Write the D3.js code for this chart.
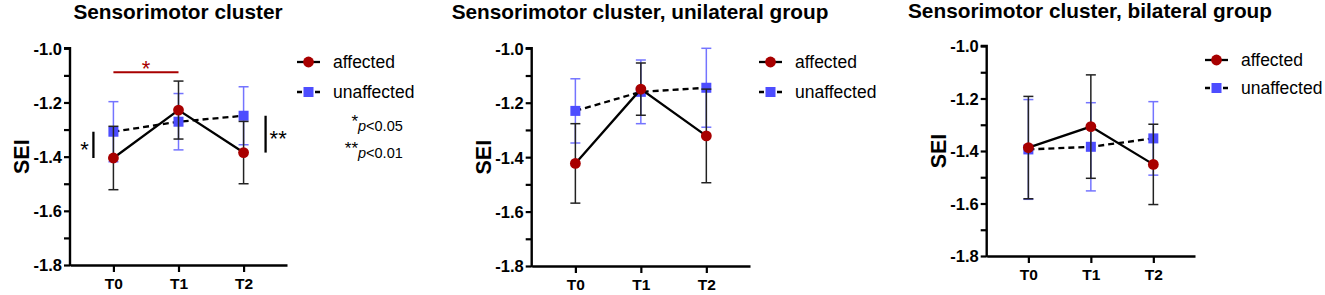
<!DOCTYPE html>
<html>
<head>
<meta charset="utf-8">
<script src="https://cdn.jsdelivr.net/npm/d3@7"></script>
<style>
  body { margin: 0; background: #fff; }
  text { font-family: "Liberation Sans", Arial, sans-serif; }
</style>
</head>
<body>
<script>
var timepoints = ["T0", "T1", "T2"];
var yTickValues = [-1.8, -1.7, -1.6, -1.5, -1.4, -1.3, -1.2, -1.1, -1.0];
var yLabelValues = [-1.8, -1.6, -1.4, -1.2, -1.0];
var titles = ["Sensorimotor cluster", "Sensorimotor cluster, unilateral group", "Sensorimotor cluster, bilateral group"];
var seriesNames = ["affected", "unaffected"];

// mean and error (SEM) per time point
var allAffected = [-1.405, -1.228, -1.385];
var allAffectedErr = [0.117, 0.107, 0.115];
var allUnaffected = [-1.308, -1.271, -1.249];
var allUnaffectedErr = [0.111, 0.104, 0.107];

var uniAffected = [-1.423, -1.150, -1.322];
var uniAffectedErr = [0.146, 0.096, 0.172];
var uniUnaffected = [-1.230, -1.160, -1.145];
var uniUnaffectedErr = [0.118, 0.117, 0.145];

var biAffected = [-1.387, -1.307, -1.451];
var biAffectedErr = [0.195, 0.197, 0.153];
var biUnaffected = [-1.394, -1.384, -1.352];
var biUnaffectedErr = [0.19, 0.168, 0.14];

var redCol = "#a80000";
var blueCol = "#4d4dff";
var blueErrCol = "#7474ff";

var svg = d3.select("body").append("svg")
    .attr("width", 1325)
    .attr("height", 295)
    .style("display", "block");

var panels = [
  {title: titles[0], a: allAffected, ae: allAffectedErr, u: allUnaffected, ue: allUnaffectedErr,
   left: 70, right: 287, top: 48.3, bottom: 265, titleX: 178, titleY: 19, legX: 297, legY: 62},
  {title: titles[1], a: uniAffected, ae: uniAffectedErr, u: uniUnaffected, ue: uniUnaffectedErr,
   left: 531.7, right: 750, top: 48.3, bottom: 266, titleX: 640, titleY: 19, legX: 759, legY: 62},
  {title: titles[2], a: biAffected, ae: biAffectedErr, u: biUnaffected, ue: biUnaffectedErr,
   left: 986.7, right: 1195, top: 46, bottom: 256, titleX: 1090, titleY: 18, legX: 1205, legY: 60}
];

panels.forEach(function(p, pi) {
  var g = svg.append("g");

  var x = d3.scaleLinear().domain([-0.667, 2.667]).range([p.left, p.right]);
  var y = d3.scaleLinear().domain([-1.8, -1.0]).range([p.bottom, p.top]);
  p.x = x; p.y = y;

  g.append("text")
      .attr("x", p.titleX).attr("y", p.titleY)
      .attr("text-anchor", "middle")
      .style("font-size", "20.8px").style("font-weight", "bold")
      .text(p.title);

  var yAxis = d3.axisLeft(y)
      .tickValues(yTickValues)
      .tickSize(6)
      .tickSizeOuter(0)
      .tickFormat(function(d) {
        return yLabelValues.some(function(v) { return Math.abs(v - d) < 1e-6; }) ? d3.format(".1f")(d).replace("−", "-") : "";
      });

  var ya = g.append("g").attr("transform", "translate(" + p.left + ",0)").call(yAxis);
  ya.select(".domain").attr("stroke-width", 2.4).attr("d", "M0," + (p.bottom + 1) + "V" + p.top + "H-6");
  ya.selectAll(".tick line").attr("stroke-width", 2.2);
  ya.selectAll(".tick text")
      .attr("x", -8)
      .attr("dy", "0.36em")
      .style("font-size", "16.5px").style("font-weight", "bold")
      .style("font-family", "Liberation Sans, Arial, sans-serif")
      .attr("fill", "#000");

  var xAxis = d3.axisBottom(x)
      .tickValues([0, 1, 2])
      .tickSize(7)
      .tickSizeOuter(0)
      .tickFormat(function(d) { return timepoints[d]; });

  var xa = g.append("g").attr("transform", "translate(0," + p.bottom + ")").call(xAxis);
  xa.select(".domain").attr("stroke-width", 2.4);
  xa.selectAll(".tick line").attr("stroke-width", 2.2);
  xa.selectAll(".tick text")
      .attr("y", 13)
      .style("font-size", "15.5px").style("font-weight", "bold")
      .style("font-family", "Liberation Sans, Arial, sans-serif")
      .attr("fill", "#000");

  g.append("text")
      .attr("transform", "translate(" + (p.left - 41) + "," + ((p.top + p.bottom) / 2) + ") rotate(-90)")
      .attr("text-anchor", "middle")
      .style("font-size", "21.5px").style("font-weight", "bold")
      .text("SEI");

  var idx = [0, 1, 2];
  var cap = 5;

  function errorBars(means, errs, col, w) {
    var eb = g.append("g").attr("stroke", col).attr("stroke-width", w).attr("fill", "none");
    idx.forEach(function(i) {
      var cx = x(i), hi = y(means[i] + errs[i]), lo = y(means[i] - errs[i]);
      eb.append("line").attr("x1", cx).attr("x2", cx).attr("y1", hi).attr("y2", lo);
      eb.append("line").attr("x1", cx - cap).attr("x2", cx + cap).attr("y1", hi).attr("y2", hi);
      eb.append("line").attr("x1", cx - cap).attr("x2", cx + cap).attr("y1", lo).attr("y2", lo);
    });
  }

  var line = d3.line().x(function(i) { return x(i); });

  // unaffected
  errorBars(p.u, p.ue, blueErrCol, 1.5);
  g.append("path")
      .attr("d", line.y(function(i) { return y(p.u[i]); })(idx))
      .attr("fill", "none").attr("stroke", "#000").attr("stroke-width", 2.3)
      .attr("stroke-dasharray", "6,4");
  g.selectAll(".sq").data(idx).enter().append("rect")
      .attr("x", function(i) { return x(i) - 5; })
      .attr("y", function(i) { return y(p.u[i]) - 5; })
      .attr("width", 10).attr("height", 10)
      .attr("fill", blueCol);

  // affected
  errorBars(p.a, p.ae, "#222", 1.5);
  g.append("path")
      .attr("d", line.y(function(i) { return y(p.a[i]); })(idx))
      .attr("fill", "none").attr("stroke", "#000").attr("stroke-width", 2.3);
  g.selectAll(".ci").data(idx).enter().append("circle")
      .attr("cx", function(i) { return x(i); })
      .attr("cy", function(i) { return y(p.a[i]); })
      .attr("r", 5.4)
      .attr("fill", redCol);

  // legend
  var lg = g.append("g").attr("transform", "translate(" + p.legX + "," + p.legY + ")");
  lg.append("line").attr("x1", 0).attr("x2", 23).attr("y1", 0).attr("y2", 0)
      .attr("stroke", "#000").attr("stroke-width", 2.3);
  lg.append("circle").attr("cx", 11.5).attr("cy", 0).attr("r", 5.4).attr("fill", redCol);
  lg.append("text").attr("x", 36).attr("y", 6).style("font-size", "17.5px").text(seriesNames[0]);

  var ly = (pi === 2) ? 28 : 30;
  lg.append("line").attr("x1", 0).attr("x2", 23).attr("y1", ly).attr("y2", ly)
      .attr("stroke", "#000").attr("stroke-width", 2.3).attr("stroke-dasharray", "5,4");
  lg.append("rect").attr("x", 6.5).attr("y", ly - 5).attr("width", 10).attr("height", 10).attr("fill", blueCol);
  lg.append("text").attr("x", 36).attr("y", ly + 6).style("font-size", "17.5px").text(seriesNames[1]);
});

// significance annotations on the first panel
var p0 = panels[0];
var ann = svg.append("g");

var redY = p0.y(-1.088);
ann.append("line")
    .attr("x1", p0.x(0)).attr("x2", p0.x(1)).attr("y1", redY).attr("y2", redY)
    .attr("stroke", redCol).attr("stroke-width", 2);
ann.append("text")
    .attr("x", (p0.x(0) + p0.x(1)) / 2).attr("y", redY + 4)
    .attr("text-anchor", "middle").attr("fill", redCol)
    .style("font-size", "22px").text("*");

var lx = p0.x(0) - 20;
ann.append("line")
    .attr("x1", lx).attr("x2", lx)
    .attr("y1", p0.y(allUnaffected[0])).attr("y2", p0.y(allAffected[0]))
    .attr("stroke", "#000").attr("stroke-width", 2.3);
ann.append("text")
    .attr("x", lx - 9).attr("y", (p0.y(allUnaffected[0]) + p0.y(allAffected[0])) / 2 + 12)
    .attr("text-anchor", "middle")
    .style("font-size", "22px").text("*");

var rx = p0.x(2) + 22;
ann.append("line")
    .attr("x1", rx).attr("x2", rx)
    .attr("y1", p0.y(allUnaffected[2])).attr("y2", p0.y(allAffected[2]))
    .attr("stroke", "#000").attr("stroke-width", 2.3);
ann.append("text")
    .attr("x", rx + 4).attr("y", (p0.y(allUnaffected[2]) + p0.y(allAffected[2])) / 2 + 12)
    .style("font-size", "22px").text("**");

var pNotes = [["*", "p", "<0.05"], ["**", "p", "<0.01"]];
pNotes.forEach(function(n, i) {
  var by = 130 + i * 27;
  ann.append("text").attr("x", 358).attr("y", by - 3)
      .attr("text-anchor", "end").style("font-size", "17px").text(n[0]);
  var t = ann.append("text").attr("x", 358).attr("y", by + 1).style("font-size", "14.5px");
  t.append("tspan").style("font-style", "italic").text(n[1]);
  t.append("tspan").text(n[2]);
});
</script>
</body>
</html>
